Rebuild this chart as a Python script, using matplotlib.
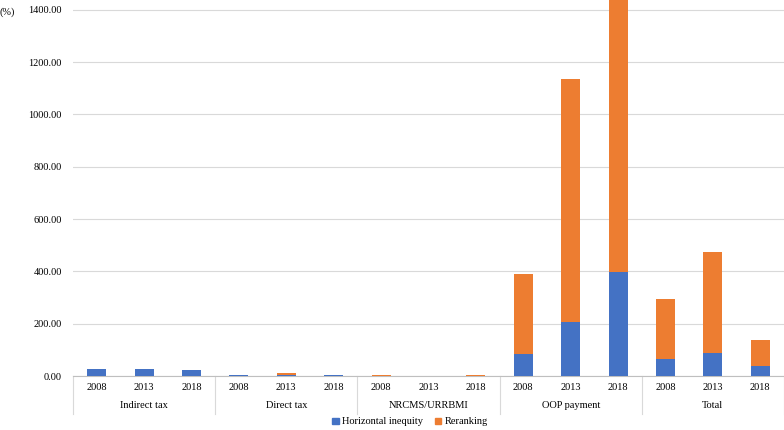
import numpy as np
import matplotlib.pyplot as plt
import matplotlib.transforms as mtransforms
from matplotlib.patches import Patch

plt.rcParams["font.family"] = ["Liberation Serif", "DejaVu Serif"]

groups = ["Indirect tax", "Direct tax", "NRCMS/URRBMI", "OOP payment", "Total"]
years = ["2008", "2013", "2018"]
horizontal = [26, 26, 23, 2, 5, 4, 1, 0, 1, 83, 208, 399, 64, 87, 39]
reranking = [0, 0, 0, 1, 5, 1, 1, 0, 1, 307, 927, 1045, 232, 386, 100]

BLUE = "#4472C4"
ORANGE = "#ED7D31"

fig = plt.figure(figsize=(7.84, 4.30), dpi=100)
ax = fig.add_axes([73 / 784, 1 - 376 / 430, 711 / 784, 376 / 430])

x = np.arange(len(horizontal))
ax.bar(x, horizontal, width=0.4, color=BLUE, zorder=3)
ax.bar(x, reranking, width=0.4, bottom=horizontal, color=ORANGE, zorder=3)

ax.set_xlim(-0.5, len(x) - 0.5)
ax.set_ylim(0, 1437)
ax.set_yticks(np.arange(0, 1401, 200))
ax.set_yticklabels([f"{v:.2f}" for v in np.arange(0, 1401, 200)], fontsize=7.5)
ax.yaxis.grid(True, color="#D9D9D9", linewidth=0.8, zorder=0)
ax.tick_params(axis="y", length=0, pad=8)
ax.tick_params(axis="x", length=0, pad=5)
for s in ["top", "right", "left"]:
    ax.spines[s].set_visible(False)
ax.spines["bottom"].set_color("#BFBFBF")
ax.spines["bottom"].set_linewidth(0.8)

ax.set_xticks(x)
ax.set_xticklabels(years * len(groups), fontsize=7.5)

trans = mtransforms.blended_transform_factory(ax.transData, ax.transAxes)
px = 1 / 376
for i, g in enumerate(groups):
    ax.text(i * 3 + 1, -29 * px, g, transform=trans, ha="center", va="center", fontsize=7.5)
for b in range(len(groups) + 1):
    ax.plot([b * 3 - 0.5, b * 3 - 0.5], [0, -38 * px], transform=trans,
            color="#D9D9D9", linewidth=0.8, clip_on=False)

fig.text(0.0, 1 - 12 / 430, "(%)", fontsize=7.5, ha="left", va="center")

handles = [Patch(color=BLUE, label="Horizontal inequity"),
           Patch(color=ORANGE, label="Reranking")]
fig.legend(handles=handles, loc="center", bbox_to_anchor=(410 / 784, 1 - 422 / 430),
           ncol=2, frameon=False, fontsize=7.5, handlelength=0.6, handleheight=0.6,
           handletextpad=0.3, columnspacing=1.2)

fig.savefig("out.png", dpi=100)
